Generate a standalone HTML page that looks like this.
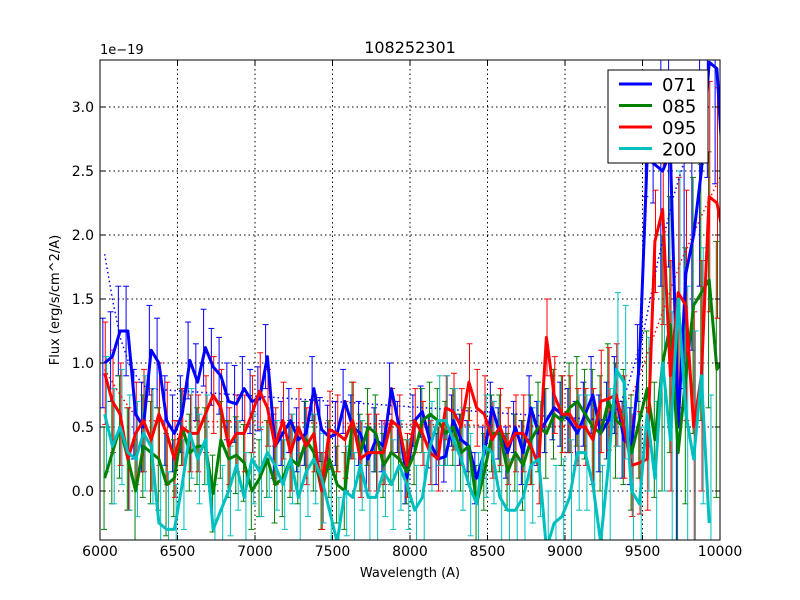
<!DOCTYPE html>
<html><head><meta charset="utf-8"><style>
html,body{margin:0;padding:0;background:#fff;width:800px;height:600px;overflow:hidden;}
svg{display:block;font-family:"DejaVu Sans","Liberation Sans",sans-serif;}
</style></head><body>
<svg id="chart" width="800" height="600" viewBox="0 0 800 600" xmlns="http://www.w3.org/2000/svg">
<rect width="800" height="600" fill="#fff"/>
<defs><clipPath id="clip"><rect x="100" y="60" width="620" height="480"/></clipPath></defs>
<g id="grid"></g>
<g id="series" clip-path="url(#clip)"></g>
<rect x="100" y="60" width="620" height="480" fill="none" stroke="#000" stroke-width="1"/>
<g id="axes"></g>
<text x="410" y="53" font-size="16" text-anchor="middle">108252301</text>
<text x="100" y="54" font-size="13">1e−19</text>
<text x="410" y="577" font-size="13" text-anchor="middle">Wavelength (A)</text>
<text transform="translate(59,300) rotate(-90)" font-size="13" text-anchor="middle">Flux (erg/s/cm^2/A)</text>
<g id="legend">
<rect x="608" y="70" width="100" height="93" fill="#fff" stroke="#000" stroke-width="1"/>
</g>
</svg>
<script>
const xStart = 6030, xStep = 50;
const xTicks = [6000,6500,7000,7500,8000,8500,9000,9500,10000];
const yTicks = [0.0,0.5,1.0,1.5,2.0,2.5,3.0];
const names = ["071","085","095","200"];
const colors = ["#0000ff","#008000","#ff0000","#00bfbf"];
const flux071 = [1.0,1.05,1.25,1.25,0.6,0.5,1.1,1.0,0.55,0.45, 0.6,1.02,0.85,1.12,0.97,0.9,0.7,0.68,0.8,0.7, 0.72,1.05,0.35,0.45,0.55,0.4,0.45,0.8,0.48,0.42, 0.45,0.7,0.5,0.45,0.25,0.4,0.35,0.8,0.5,0.1, 0.55,0.62,0.38,0.25,0.27,0.55,0.4,0.35,0.1,0.3, 0.65,0.45,0.3,0.5,0.3,0.65,0.45,0.55,0.65,0.6, 0.55,0.45,0.6,0.75,0.45,0.55,0.75,0.4,0.35,1.0, 2.6,2.55,2.5,2.65,0.5,1.7,2.0,2.5,3.35,3.3, 2.3];
const flux085 = [0.1,0.3,0.5,0.25,0.0,0.35,0.3,0.25,0.05,0.1, 0.5,0.3,0.35,0.35,-0.02,0.4,0.25,0.28,0.22,0.0, 0.1,0.25,0.05,0.1,0.25,0.2,0.4,0.3,0.0,0.25, 0.05,0.0,0.55,0.3,0.5,0.45,0.2,0.3,0.25,0.15, 0.3,0.55,0.6,0.55,0.45,0.5,0.3,0.35,-0.1,0.15, 0.45,0.45,0.15,0.3,0.2,0.4,0.5,0.45,0.6,0.55, 0.65,0.7,0.6,0.5,0.45,0.7,0.55,0.5,0.3,0.55, 0.8,0.4,1.0,1.3,0.3,0.9,1.45,1.55,1.65,0.95, 1.05];
const flux095 = [0.92,0.7,0.6,0.25,0.45,0.55,0.4,0.6,0.45,0.25, 0.5,0.45,0.45,0.6,0.75,0.65,0.35,0.45,0.45,0.6, 0.78,0.65,0.35,0.55,0.3,0.5,0.35,0.45,0.0,0.48, 0.45,0.4,0.55,0.25,0.3,0.3,0.3,0.55,0.5,0.2, 0.55,0.45,0.3,0.25,0.65,0.62,0.5,0.85,0.65,0.6, 0.4,0.5,0.35,0.45,0.45,0.35,0.2,1.2,0.75,0.6, 0.6,0.5,0.5,0.4,0.7,0.72,0.75,0.5,0.2,0.22, 0.25,1.95,2.2,0.9,1.55,1.45,0.5,0.9,2.3,2.25, 1.95];
const flux200 = [0.6,0.35,0.5,0.3,0.25,0.45,0.35,-0.25,-0.3,-0.3, 0.05,0.45,0.25,0.4,-0.3,-0.15,0.0,0.2,-0.05,0.25, 0.15,0.3,0.2,0.05,0.25,-0.05,0.15,0.25,0.1,-0.15, -0.4,0.0,-0.05,0.2,-0.05,-0.05,0.15,0.05,0.2,0.05, -0.15,-0.05,0.35,0.55,0.55,0.4,0.25,0.05,-0.1,0.35, 0.3,-0.05,-0.15,-0.15,-0.05,0.2,0.25,-0.45,-0.25,-0.2, -0.05,0.3,0.3,0.05,-0.4,0.2,0.95,0.85,0.0,-0.1, 0.6,0.1,1.0,0.4,1.5,0.6,0.25,0.9,-0.25,null, null];
const err071 = [0.35,0.3,0.25,0.25,0.2,0.2,0.25,0.3,0.9];
const err085 = [0.4,0.3,0.3,0.3,0.25,0.3,0.35,0.45,1.0];
const err095 = [0.4,0.3,0.3,0.3,0.25,0.3,0.3,0.4,0.9];
const err200 = [0.45,0.35,0.35,0.35,0.35,0.4,0.45,0.6,1.0];
const modelWave071 = [6030,6080,6130,6200,6300,9300,9400,9500,9600,9700,9800,9900];
const modelFlux071 = [1.85,1.5,1.2,0.95,0.8,0.55,0.8,1.2,1.8,2.3,2.7,3.1];
const modelWave095 = [6030,6130,6250,9300,9450,9600,9750,9900,10000];
const modelFlux095 = [0.95,0.75,0.55,0.5,0.8,1.3,1.8,2.2,2.45];
const fluxes = [flux071,flux085,flux095,flux200];
const errs = [err071,err085,err095,err200];

const X = w => 100 + (w-6000)/4000*620;
const Y = v => 491 - v*128;
const NS = "http://www.w3.org/2000/svg";
function mk(tag, attrs, parent){const e=document.createElementNS(NS,tag);for(const k in attrs)e.setAttribute(k,attrs[k]);parent.appendChild(e);return e;}
const grid=document.getElementById('grid'), axes=document.getElementById('axes'), ser=document.getElementById('series'), leg=document.getElementById('legend');

xTicks.forEach(t=>{
  const x=X(t);
  if(t>6000&&t<10000){const l=mk('line',{x1:x,x2:x,y1:60,y2:540,stroke:'#000','stroke-dasharray':'1.5,3','stroke-width':1},grid);
  
  }
  mk('line',{x1:x,x2:x,y1:540,y2:535,stroke:'#000'},axes);
  mk('line',{x1:x,x2:x,y1:60,y2:65,stroke:'#000'},axes);
  const tx=mk('text',{x:x,y:556,'font-size':14,'text-anchor':'middle'},axes);
  tx.textContent=t;
  
  
});
yTicks.forEach(t=>{
  const y=Y(t);
  const l=mk('line',{x1:100,x2:720,y1:y,y2:y,stroke:'#000','stroke-dasharray':'1.5,3','stroke-width':1},grid);
  
  
  mk('line',{x1:100,x2:105,y1:y,y2:y,stroke:'#000'},axes);
  mk('line',{x1:720,x2:715,y1:y,y2:y,stroke:'#000'},axes);
  const tx=mk('text',{x:94,y:y+5,'font-size':14,'text-anchor':'end'},axes);
  tx.textContent=t.toFixed(1);
  
  
});

fluxes.forEach((arr,s)=>{
  const g=mk('g',{stroke:colors[s],'stroke-width':1},ser);
  
  
  arr.forEach((v,i)=>{
    if(v===null)return;
    const e=errs[s][Math.min(8,Math.floor(i/9))];
    const x=X(xStart+i*xStep)+(s-1.5)*1.2, y1=Y(v+e), y2=Y(v-e);
    mk('line',{x1:x,x2:x,y1:y1,y2:y2},g);
    mk('line',{x1:x-3,x2:x+3,y1:y1,y2:y1},g);
    mk('line',{x1:x-3,x2:x+3,y1:y2,y2:y2},g);
  });
});
[[modelWave071,modelFlux071,colors[0],'model-071'],[modelWave095,modelFlux095,colors[2],'model-095']].forEach(m=>{
  const p=mk('polyline',{points:m[0].map((w,i)=>X(w)+','+Y(m[1][i])).join(' '),fill:'none',stroke:m[2],'stroke-width':1.5,'stroke-dasharray':'1.5,3'},ser);
  
  
});
fluxes.forEach((arr,s)=>{
  const pts=[];arr.forEach((v,i)=>{if(v!==null)pts.push(X(xStart+i*xStep)+','+Y(v));});
  const p=mk('polyline',{points:pts.join(' '),fill:'none',stroke:colors[s],'stroke-width':3,'stroke-linejoin':'round'},ser);
  
  
});
names.forEach((n,s)=>{
  const y=84+s*21.5;
  const l=mk('line',{x1:619,x2:652,y1:y,y2:y,stroke:colors[s],'stroke-width':3},leg);
  
  
  const t=mk('text',{x:662,y:y+7,'font-size':18},leg);
  t.textContent=n;
  
  
});
</script>
</body></html>
